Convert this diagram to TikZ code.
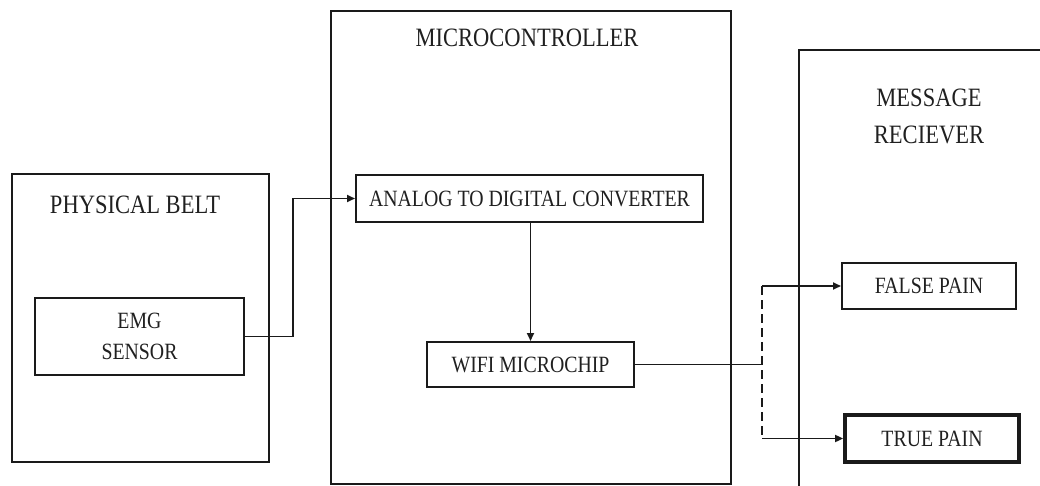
\documentclass[tikz,border=0pt]{standalone}
\usepackage{fontspec}
\setmainfont{Liberation Serif}[FakeStretch=0.85]
\usetikzlibrary{arrows.meta}
\definecolor{ink}{HTML}{1A1A1A}
\definecolor{txt}{HTML}{202020}
\begin{document}
\begin{tikzpicture}[x=1pt,y=-1pt,
  frame/.style={draw=ink,line width=2pt,inner sep=0pt},
  block/.style={draw=ink,line width=2pt,inner sep=0pt,align=center,
    font=\fontsize{23.3}{31}\selectfont,text=txt},
  heading/.style={inner sep=0pt,align=center,
    font=\fontsize{26.5}{37}\selectfont,text=txt},
  link/.style={draw=ink,line width=1.8pt},
  arrow/.style={link,-{Triangle[length=8pt,width=7pt]}}]
\useasboundingbox (0,0) rectangle (1040,486);

% outer groups
\node[frame,minimum width=257pt,minimum height=288pt] (belt) at (140.5,318) {};
\node[heading] (beltT) at (135,205) {PHYSICAL BELT};
\node[frame,minimum width=400pt,minimum height=473pt] (mcu) at (531,247.5) {};
\node[heading] (mcuT) at (527,38) {MICROCONTROLLER};
\draw[ink,line width=2pt] (1060,50) -- (799,50) -- (799,500);
\node[heading] (rxT) at (929,116) {MESSAGE\\RECIEVER};

% inner blocks
\node[block,minimum width=209pt,minimum height=77pt] (emg) at (139.5,336.5) {EMG\\SENSOR};
\node[block,minimum width=347pt,minimum height=47pt] (adc) at (529.5,198.5) {ANALOG TO DIGITAL CONVERTER};
\node[block,minimum width=207pt,minimum height=45pt] (wifi) at (530.5,364.5) {WIFI MICROCHIP};
\node[block,minimum width=174pt,minimum height=46pt] (false) at (929,286) {FALSE PAIN};
\node[block,line width=3.8pt,minimum width=174pt,minimum height=47pt] (true) at (932,438.5) {TRUE PAIN};

% connectors
\coordinate (bend) at (293,336.5);
\draw[arrow] (emg.east) -- (bend) |- (adc.west);
\draw[arrow] (wifi.north |- adc.south) -- (wifi.north);
\coordinate (split) at (762,364.5);
\draw[link] (wifi.east) -- (split);
\draw[link,dash pattern=on 9pt off 5pt] (split |- false.west) -- (split |- true.west);
\draw[arrow] (split |- false.west) -- (false.west);
\draw[arrow] (split |- true.west) -- (true.west);
\end{tikzpicture}
\end{document}
